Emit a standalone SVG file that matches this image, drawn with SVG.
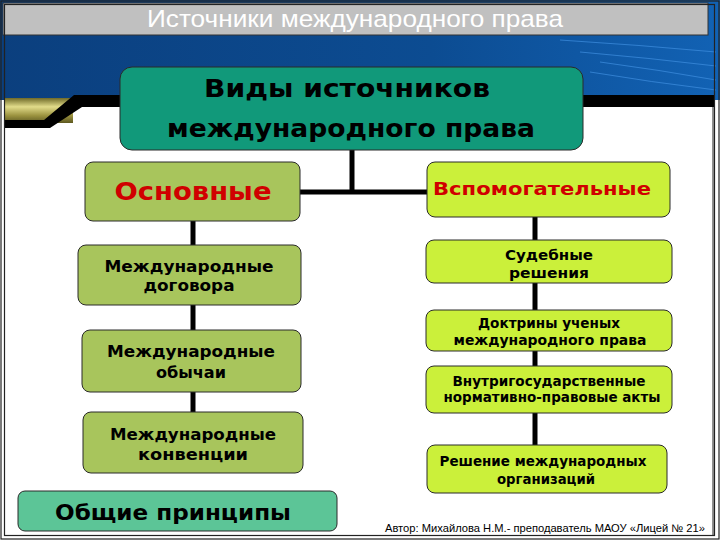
<svg xmlns="http://www.w3.org/2000/svg" width="720" height="540" viewBox="0 0 720 540">
<defs>
<linearGradient id="blue" x1="0" y1="0" x2="1" y2="0">
<stop offset="0" stop-color="#0b3f7e"/>
<stop offset="0.6" stop-color="#0c4c92"/>
<stop offset="1" stop-color="#1262b4"/>
</linearGradient>
<linearGradient id="gold" x1="0" y1="0" x2="0" y2="1">
<stop offset="0" stop-color="#6f6a28"/>
<stop offset="0.35" stop-color="#e2dc8a"/>
<stop offset="0.7" stop-color="#9c9340"/>
<stop offset="1" stop-color="#5d5820"/>
</linearGradient>
<style>
.frame{fill:none;stroke:#222;stroke-width:1.2}
.box{stroke:#2a2a2a;stroke-width:1}
.main{fill:#11997a}
.olive{fill:#a8c55c}
.lime{fill:#cbf03a}
.mint{fill:#5cc597}
.t{font-family:"DejaVu Sans",Verdana,sans-serif;font-weight:bold;fill:#000;text-anchor:middle}
.red{fill:#d00000}
.conn{stroke:#000;stroke-width:5;fill:none}
.streak{stroke:#3f8fe0;stroke-width:1;opacity:0.7;fill:none}
</style>
</defs>
<!-- background -->
<rect x="0" y="0" width="720" height="540" fill="#ffffff"/>
<rect x="0" y="0" width="720" height="100" fill="url(#blue)"/>
<path class="streak" d="M560 40 Q640 45 716 52"/>
<path class="streak" d="M580 52 Q650 58 716 66"/>
<path class="streak" d="M600 62 Q660 70 716 80"/>
<path class="streak" d="M590 72 Q650 82 716 90"/>
<rect x="5" y="98" width="68" height="25" fill="url(#gold)"/>
<polygon points="5,120 44,120 74,95 715,95 715,107 82,107 50,128 5,128" fill="#000"/>
<rect x="5" y="128" width="708" height="407" fill="#ffffff"/>
<rect x="3" y="3" width="705" height="32" fill="#c0c0c0" stroke="#333" stroke-width="1"/>
<text x="355" y="27" font-family="'Liberation Sans',Arial,sans-serif" font-size="24" fill="#ffffff" text-anchor="middle" textLength="416" lengthAdjust="spacingAndGlyphs">Источники  международного права</text>
<rect class="frame" x="1" y="1" width="718" height="538"/>
<rect class="frame" x="4.5" y="4.5" width="710" height="531"/>
<line x1="713" y1="107" x2="713" y2="535" stroke="#222" stroke-width="1"/>

<!-- connectors -->
<g id="connectors">
<line class="conn" x1="352" y1="150" x2="352" y2="192"/>
<line class="conn" x1="300" y1="192" x2="427" y2="192"/>
<line class="conn" x1="193" y1="221" x2="193" y2="245" stroke-width="4"/>
<line class="conn" x1="193" y1="305" x2="193" y2="330" stroke-width="4"/>
<line class="conn" x1="193" y1="392" x2="193" y2="412" stroke-width="4"/>
<line class="conn" x1="535" y1="217" x2="535" y2="240"/>
<line class="conn" x1="535" y1="283" x2="535" y2="310"/>
<line class="conn" x1="535" y1="351" x2="535" y2="366"/>
<line class="conn" x1="535" y1="413" x2="535" y2="445"/>
</g>

<g id="node-main">
<rect class="box main" x="120" y="67" width="463" height="83" rx="12"/>
<text class="t" x="347" y="97" font-size="25" textLength="286" lengthAdjust="spacingAndGlyphs">Виды  источников</text>
<text class="t" x="351" y="137" font-size="25" textLength="368" lengthAdjust="spacingAndGlyphs">международного права</text>
</g>

<g id="node-osnovnye">
<rect class="box olive" x="85" y="162" width="215" height="59" rx="8"/>
<text class="t red" x="193" y="200" font-size="24" textLength="157" lengthAdjust="spacingAndGlyphs">Основные</text>
</g>

<g id="node-vspomogatelnye">
<rect class="box lime" x="427" y="162" width="243" height="55" rx="8"/>
<text class="t red" x="542" y="195" font-size="17" textLength="218" lengthAdjust="spacingAndGlyphs">Вспомогательные</text>
</g>

<g id="node-dogovora">
<rect class="box olive" x="78" y="245" width="223" height="60" rx="8"/>
<text class="t" x="189" y="272" font-size="16" textLength="169" lengthAdjust="spacingAndGlyphs">Международные</text>
<text class="t" x="189" y="291" font-size="16" textLength="91" lengthAdjust="spacingAndGlyphs">договора</text>
</g>

<g id="node-obychai">
<rect class="box olive" x="82" y="330" width="219" height="62" rx="8"/>
<text class="t" x="191" y="357" font-size="16" textLength="168" lengthAdjust="spacingAndGlyphs">Международные</text>
<text class="t" x="191" y="378" font-size="16" textLength="70" lengthAdjust="spacingAndGlyphs">обычаи</text>
</g>

<g id="node-konventsii">
<rect class="box olive" x="83" y="412" width="220" height="61" rx="8"/>
<text class="t" x="193" y="440" font-size="16" textLength="166" lengthAdjust="spacingAndGlyphs">Международные</text>
<text class="t" x="193" y="460" font-size="16" textLength="110" lengthAdjust="spacingAndGlyphs">конвенции</text>
</g>

<g id="node-obshchie">
<rect class="box mint" x="18" y="491" width="319" height="40" rx="7"/>
<text class="t" x="173" y="520" font-size="22" textLength="236" lengthAdjust="spacingAndGlyphs">Общие принципы</text>
</g>

<g id="node-sudebnye">
<rect class="box lime" x="426" y="240" width="246" height="43" rx="8"/>
<text class="t" x="549" y="260" font-size="14" textLength="88" lengthAdjust="spacingAndGlyphs">Судебные</text>
<text class="t" x="549" y="278" font-size="14" textLength="80" lengthAdjust="spacingAndGlyphs">решения</text>
</g>

<g id="node-doktriny">
<rect class="box lime" x="426" y="310" width="246" height="41" rx="8"/>
<text class="t" x="549" y="328" font-size="14" textLength="142" lengthAdjust="spacingAndGlyphs">Доктрины ученых</text>
<text class="t" x="550" y="345" font-size="14" textLength="193" lengthAdjust="spacingAndGlyphs">международного права</text>
</g>

<g id="node-vnutrigos">
<rect class="box lime" x="426" y="366" width="246" height="47" rx="8"/>
<text class="t" x="549" y="386" font-size="14" textLength="193" lengthAdjust="spacingAndGlyphs">Внутригосударственные</text>
<text class="t" x="552" y="402" font-size="14" textLength="217" lengthAdjust="spacingAndGlyphs">нормативно-правовые акты</text>
</g>

<g id="node-resheniye">
<rect class="box lime" x="427" y="445" width="240" height="48" rx="8"/>
<text class="t" x="543" y="466" font-size="14" textLength="207" lengthAdjust="spacingAndGlyphs">Решение международных</text>
<text class="t" x="546" y="484" font-size="14" textLength="98" lengthAdjust="spacingAndGlyphs">организаций</text>
</g>

<text x="545" y="532" font-family="'Liberation Sans',Arial,sans-serif" font-size="11" fill="#000" text-anchor="middle" textLength="320" lengthAdjust="spacingAndGlyphs">Автор: Михайлова Н.М.- преподаватель МАОУ «Лицей № 21»</text>
</svg>
